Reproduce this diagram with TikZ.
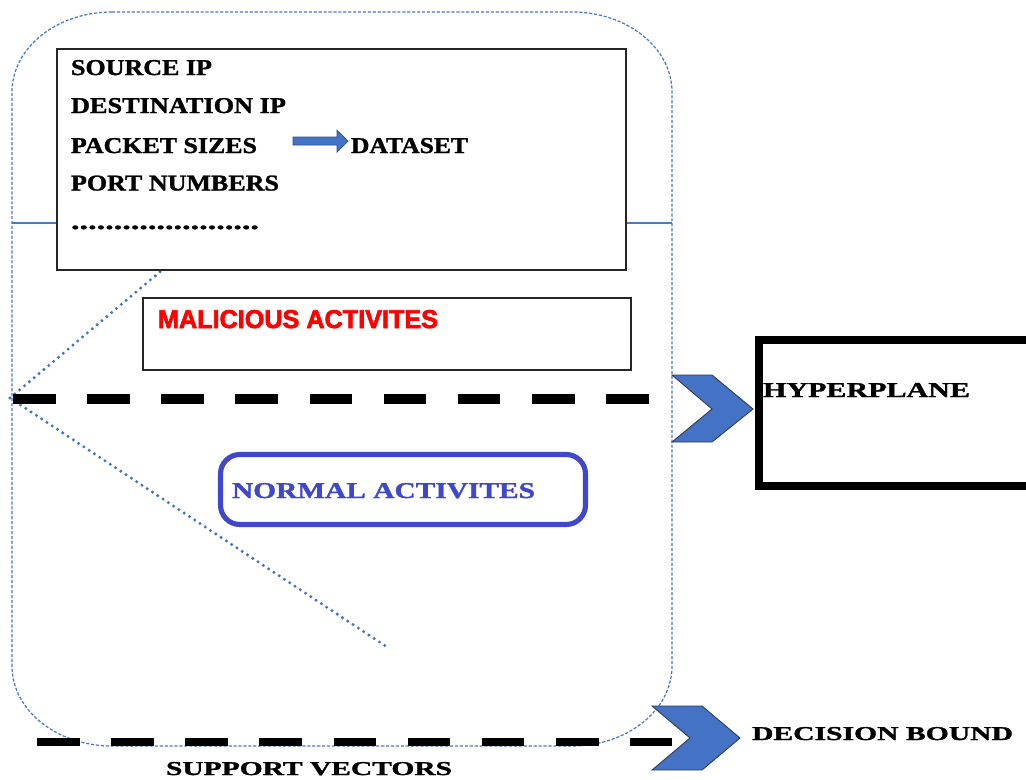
\documentclass[tikz,border=0pt]{standalone}
\usepackage{fontspec}
\usepackage{graphicx}
\setmainfont[BoldFeatures={FakeBold=1.2}]{Liberation Serif}
\newfontfamily\heavysans[BoldFeatures={FakeBold=2.5}]{Liberation Sans}
\newlength\pxu
\setlength\pxu{0.02cm}
% text fitted to a given width and cap height (in pixel units)
\newcommand\fitlabel[3]{\resizebox{#1\pxu}{#2\pxu}{\bfseries #3}}
\definecolor{chevblue}{HTML}{4472C4}
\definecolor{chevedge}{HTML}{2F3B52}
\definecolor{frameblue}{HTML}{4A78C8}
\definecolor{normblue}{HTML}{3F48CC}
\begin{document}
\begin{tikzpicture}[x=0.02cm, y=-0.02cm,
  lbl/.style={anchor=base west, inner sep=0pt, outer sep=0pt},
  frame/.style={draw=frameblue, line width=0.7pt, dash pattern=on 1.8pt off 1pt},
  guide/.style={draw=chevblue, line width=1.9pt, line cap=round, dash pattern=on 0pt off 3.6pt},
  thickdash/.style={draw=black, line width=6.2pt, dash pattern=on 24.2pt off 18pt},
  plainbox/.style={draw=black!85, line width=0.85pt, fill=white},
  chevron/.style={fill=chevblue, draw=chevedge, line width=0.5pt, line join=miter}]
\useasboundingbox (0,0) rectangle (1026,779);
\clip (0,0) rectangle (1026,779);
\fill[white] (0,0) rectangle (1026,779);

% outer frame with rounded corners
\path[frame] (112,12) -- (572,12)
  .. controls (627.2,12) and (672,47.8) .. (672,92)
  -- (672,666)
  .. controls (672,710.2) and (627.2,746) .. (572,746)
  -- (112,746)
  .. controls (56.8,746) and (12,710.2) .. (12,666)
  -- (12,92)
  .. controls (12,47.8) and (56.8,12) .. (112,12) -- cycle;

% thin horizontal rule behind the data box
\coordinate (ruleL) at (12,223);
\coordinate (ruleR) at (672,223);
\draw[frameblue, line width=0.8pt] (ruleL) -- (ruleR);

% dotted margin lines
\coordinate (apex) at (10,398);
\coordinate (upperEnd) at (161,271);
\coordinate (lowerEnd) at (387,647);
\path[guide] (apex) -- (upperEnd);
\path[guide] (apex) -- (lowerEnd);

% data box
\draw[plainbox] (57,49) rectangle (626,270);
\node[lbl] (src) at (71,75) {\fitlabel{141}{15}{SOURCE IP}};
\node[lbl] (dst) at (71,113) {\fitlabel{215}{15}{DESTINATION IP}};
\node[lbl] (pkt) at (71,153) {\fitlabel{186}{15}{PACKET SIZES}};
\node[lbl] (port) at (71,190.5) {\fitlabel{208}{15}{PORT NUMBERS}};
\node[lbl] (more) at (71,229) {\fitlabel{188}{3.5}{......................}};
\node[lbl] (data) at (351,153) {\fitlabel{117}{15}{DATASET}};
% block arrow towards the dataset label
\path[fill=chevblue, draw=chevblue!70!black, line width=0.4pt]
  (293,137) -- (337,137) -- (337,130) -- (348,141) -- (337,152) -- (337,145) -- (293,145) -- cycle;

% malicious activities box
\draw[plainbox, line width=0.75pt] (143,298) rectangle (631,370);
\node[lbl, text=red] (mal) at (158,328)
  {\resizebox{280\pxu}{18\pxu}{\heavysans\bfseries MALICIOUS ACTIVITES}};

% normal activities box
\draw[normblue, line width=2.9pt, rounded corners=11pt] (220.5,454.5) rectangle (585.5,524.5);
\node[lbl, text=normblue] (norm) at (232,498) {\fitlabel{303}{15}{NORMAL ACTIVITES}};

% hyperplane
\coordinate (hypL) at (13,399);
\coordinate (hypR) at (649,399);
\path[thickdash] (hypL) -- (hypR);
\path[chevron] (672,375) -- (712,375) -- (753,409) -- (712,442) -- (672,442) -- (712,409) -- cycle;
\draw[black, line width=4.3pt] (759,340) rectangle (1045,486);
\node[lbl] (hyp) at (763,397) {\fitlabel{207}{14}{HYPERPLANE}};

% decision boundary
\coordinate (decL) at (37,742);
\coordinate (decR) at (672,742);
\path[thickdash, line width=5pt] (decL) -- (decR);
\path[chevron] (652,706) -- (702,706) -- (740,738) -- (702,770) -- (652,770) -- (690,738) -- cycle;
\node[lbl] (dec) at (752,740) {\fitlabel{261}{13}{DECISION BOUND}};
\node[lbl] (sup) at (166,775) {\fitlabel{286}{13}{SUPPORT VECTORS}};
\end{tikzpicture}
\end{document}
